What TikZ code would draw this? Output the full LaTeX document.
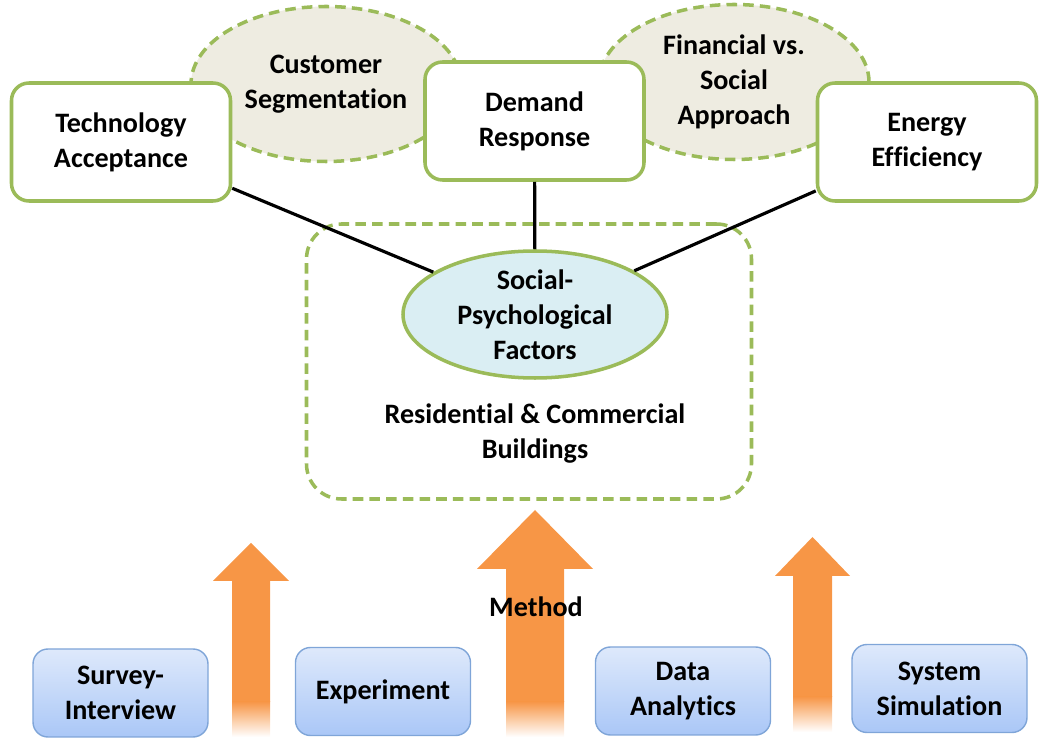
\documentclass[tikz,border=0pt]{standalone}
\usepackage{fontspec}
\setmainfont{Carlito}[Ligatures=CommonOff]
\usetikzlibrary{positioning,shapes.geometric}

\definecolor{leaf}{HTML}{9BBB59}
\definecolor{sand}{HTML}{EEECE1}
\definecolor{sky}{HTML}{DAEEF3}
\definecolor{tang}{HTML}{F79646}
\definecolor{paleblue}{HTML}{DEE9FB}
\definecolor{midblue}{HTML}{AAC7F7}
\definecolor{rimblue}{HTML}{7FA5D8}

\begin{document}
\begin{tikzpicture}[
        on grid,
        font=\fontsize{16}{20}\selectfont\bfseries,
        topic/.style={
          draw=leaf,line width=2pt,rounded corners=0.35cm,fill=white,
          minimum width=4.38cm,minimum height=2.36cm,align=center},
        theme/.style={
          ellipse,draw=leaf,fill=sand,line width=2pt,
          dash pattern=on 6pt off 3.5pt,minimum width=5.4cm,minimum height=3.1cm},
        factor/.style={
          ellipse,draw=leaf,fill=sky,line width=2pt,
          minimum width=5.28cm,minimum height=2.54cm},
        context/.style={
          draw=leaf,line width=2pt,dash pattern=on 6pt off 3.5pt,
          rounded corners=0.7cm,minimum width=8.9cm,minimum height=5.5cm},
        method/.style={
          draw=rimblue,line width=0.8pt,rounded corners=0.3cm,
          top color=paleblue,bottom color=midblue,
          minimum width=3.5cm,minimum height=1.76cm,align=center},
        every label/.append style={align=center},
        every edge/.append style={line width=1.8pt}]
      \useasboundingbox (0,0) rectangle (21,14.8);
      % side themes behind the top row
      \node[theme, label=center:{Customer\\Segmentation}] (seg) at (6.52,13.12) {};
      \node[theme, label=center:{Financial vs.\\Social\\Approach}] (fin) at (14.68,13.16) {};
      \node[topic] (tech) at (2.42,11.96) {Technology\\Acceptance};
      \node[topic] (demand) at (10.69,12.38) {Demand\\Response};
      \node[topic] (energy) at (18.54,11.96) {Energy\\Efficiency};
      % buildings context
      \node[context] (bldg) at (10.58,7.57) {};
      \node[factor, label=center:{Social-\\Psychological\\Factors}] (spf) at (10.7,8.51) {};
      \node[align=center, below=2.38cm of spf] (rescom) {Residential \& Commercial\\Buildings};
      \path (tech) edge (spf);
      \path (demand) edge (spf);
      \path (energy) edge (spf);
      % method arrows
      \foreach \cx/\sw/\hw/\hb/\tip/\bot in
          {5.02/0.38/0.76/3.18/3.94/0.06, 10.7/0.58/1.16/3.42/4.6/0.06,
           16.25/0.39/0.75/3.28/4.06/0.16} {
        \fill[tang] (\cx-\sw,\bot+0.7) -- (\cx-\sw,\hb) -- (\cx-\hw,\hb) -- (\cx,\tip)
          -- (\cx+\hw,\hb) -- (\cx+\sw,\hb) -- (\cx+\sw,\bot+0.7) -- cycle;
        \shade[top color=tang,bottom color=white]
          (\cx-\sw,\bot) rectangle (\cx+\sw,\bot+0.71);
      }
      \node (meth) at (10.72,2.66) {Method};
      \node[method] (survey) at (2.41,0.94) {Survey-\\Interview};
      \node[method] (expt) at (7.66,0.97) {Experiment};
      \node[method] (data) at (13.66,0.98) {Data\\Analytics};
      \node[method] (sim) at (18.79,1.03) {System\\Simulation};
    \end{tikzpicture}
\end{document}
